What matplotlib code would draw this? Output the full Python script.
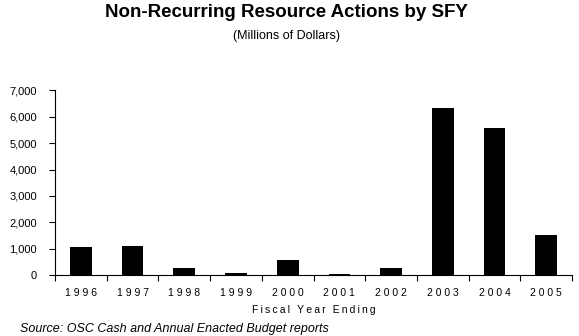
import numpy as np
import matplotlib.pyplot as plt
from matplotlib.ticker import FuncFormatter

years = ['1996', '1997', '1998', '1999', '2000', '2001', '2002', '2003', '2004', '2005']
values = [1080, 1100, 270, 80, 580, 30, 290, 6350, 5570, 1525]

plt.rcParams['font.family'] = ['Liberation Sans', 'DejaVu Sans']

fig = plt.figure(figsize=(5.79, 3.36), dpi=100)
ax = fig.add_axes([0.095, 0.181, 0.893, 0.550])

x = np.arange(len(years))
ax.bar(x, values, width=0.42, color='black')

ax.set_xlim(-0.5, len(years) - 0.5)
ax.set_ylim(0, 7000)
ax.set_yticks(np.arange(0, 7001, 1000))
ax.yaxis.set_major_formatter(FuncFormatter(lambda v, p: f'{int(v):,}'))

# ticks sit between the categories, labels in the middle
ax.set_xticks(np.arange(-0.5, len(years), 1.0))
ax.set_xticklabels([])
ax.set_xticks(x, minor=True)
ax.set_xticklabels([' '.join(y) for y in years], minor=True, fontsize=7.5)
ax.tick_params(axis='x', which='minor', length=0, pad=9)
ax.tick_params(axis='x', which='major', length=4, direction='out')
ax.tick_params(axis='y', length=4, direction='out', labelsize=8, pad=9)

for s in ['top', 'right']:
    ax.spines[s].set_visible(False)

ax.set_xlabel('\u2009'.join('Fiscal Year Ending'), fontsize=7.5, labelpad=5)

fig.text(0.494, 0.962, 'Non-Recurring Resource Actions by SFY', ha='center', va='center',
         fontsize=13.5, fontweight='bold')
fig.text(0.494, 0.893, '(Millions of Dollars)', ha='center', va='center', fontsize=9)
fig.text(0.035, 0.02, 'Source: OSC Cash and Annual Enacted Budget reports', ha='left', va='center',
         fontsize=9, style='italic')

fig.savefig('out.png', dpi=100)
